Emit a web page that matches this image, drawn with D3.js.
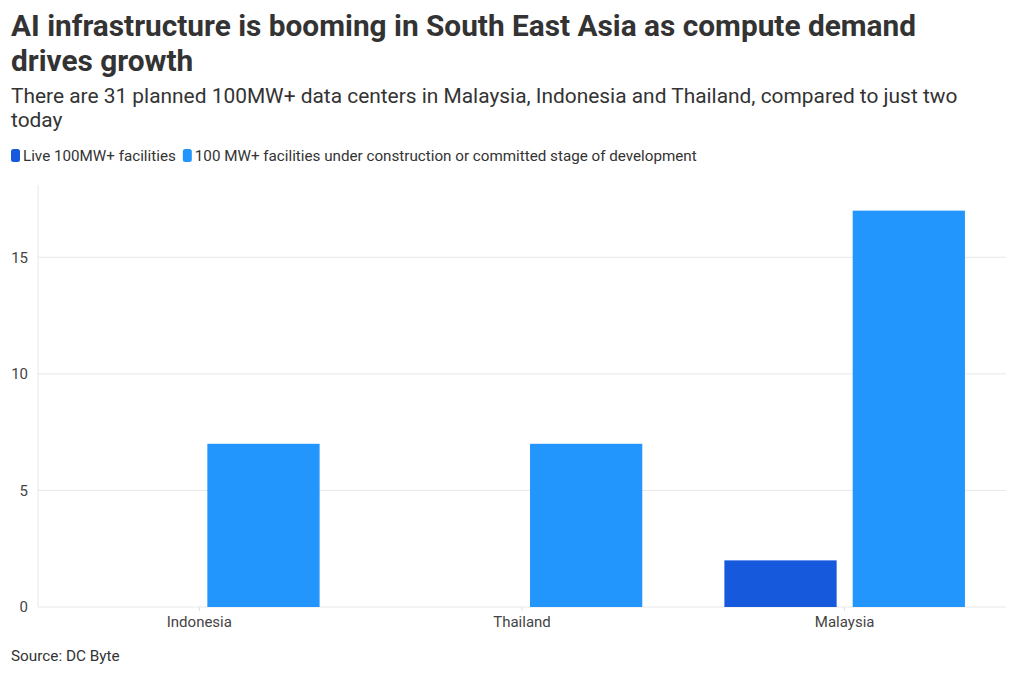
<!DOCTYPE html>
<html><head><meta charset="utf-8">
<script src="https://cdn.jsdelivr.net/npm/d3@7"></script>
<style>
body{margin:0;background:#fff;}
text{font-family:Roboto,"Noto Sans",sans-serif;}
</style></head>
<body>
<svg id="chart" width="1020" height="676"></svg>
<script>
const categories = ["Indonesia", "Thailand", "Malaysia"];
const seriesNames = ["Live 100MW+ facilities", "100 MW+ facilities under construction or committed stage of development"];
const liveValues = [0, 0, 2];
const plannedValues = [7, 7, 17];
const yTicks = [0, 5, 10, 15];
const colors = ["#1659dd", "#2396fe"];

const svg = d3.select("#chart");
const W = 1020, H = 676;
const m = {left: 38, right: 14, top: 185, bottom: 69};
const x0 = d3.scaleBand().domain(categories).range([m.left, W - m.right]).paddingInner(0).paddingOuter(0);
const x1 = d3.scaleBand().domain([0, 1]).range([0, x0.bandwidth()]).paddingInner(0.125).paddingOuter(0.32);
const y = d3.scaleLinear().domain([0, 18.1]).range([H - m.bottom, m.top]);

// title
const title = svg.append("text").attr("x", 11).attr("fill", "#333").attr("font-weight", 700).attr("font-size", 29.8);
title.append("tspan").attr("x", 11).attr("y", 36).text("AI infrastructure is booming in South East Asia as compute demand");
title.append("tspan").attr("x", 11).attr("y", 71).text("drives growth");
const sub = svg.append("text").attr("fill", "#333").attr("font-size", 20.9);
sub.append("tspan").attr("x", 11).attr("y", 103).text("There are 31 planned 100MW+ data centers in Malaysia, Indonesia and Thailand, compared to just two");
sub.append("tspan").attr("x", 11).attr("y", 127).text("today");

// legend
const leg = svg.append("g").attr("transform", "translate(11,156)");
let lx = 0;
seriesNames.forEach((n, i) => {
  leg.append("rect").attr("x", lx).attr("y", -7).attr("width", 9).attr("height", 13).attr("rx", 2.5).attr("fill", colors[i]);
  const t = leg.append("text").attr("x", lx + 12).attr("y", 5).attr("font-size", 15.2).attr("fill", "#333").text(n);
  lx += 12 + t.node().getComputedTextLength() + 7;
});

// grid
svg.append("g").selectAll("line").data(yTicks).join("line")
  .attr("x1", m.left).attr("x2", W - m.right)
  .attr("y1", d => y(d)).attr("y2", d => y(d))
  .attr("stroke", "#e8e8e8").attr("stroke-width", 1);
svg.append("line").attr("x1", m.left).attr("x2", m.left).attr("y1", m.top).attr("y2", y(0)).attr("stroke", "#e8e8e8");

// y axis
const ya = svg.append("g").attr("transform", `translate(${m.left},0)`)
  .call(d3.axisLeft(y).tickValues(yTicks).tickSize(0).tickPadding(10));
ya.select(".domain").remove();
ya.selectAll("text").attr("font-size", 15).attr("fill", "#444").style("font-family", "Roboto,sans-serif");

// bars
const data = categories.map((c, i) => ({c, vals: [liveValues[i], plannedValues[i]]}));
const g = svg.append("g");
g.selectAll("g").data(data).join("g").attr("transform", d => `translate(${x0(d.c)},0)`)
  .selectAll("rect").data(d => d.vals.map((v, k) => ({v, k}))).join("rect")
  .attr("x", d => x1(d.k)).attr("width", x1.bandwidth())
  .attr("y", d => y(d.v)).attr("height", d => y(0) - y(d.v))
  .attr("fill", d => colors[d.k]);

// x axis
const xa = svg.append("g").attr("transform", `translate(0,${y(0)})`)
  .call(d3.axisBottom(x0).tickSize(4).tickPadding(5));
xa.select(".domain").remove();
xa.selectAll("line").attr("stroke", "#e0e0e0");
xa.selectAll("text").attr("font-size", 15).attr("fill", "#444").style("font-family", "Roboto,sans-serif");

svg.append("text").attr("x", 11).attr("y", 661).attr("font-size", 15.3).attr("fill", "#333").text("Source: DC Byte");
</script>
</body></html>
